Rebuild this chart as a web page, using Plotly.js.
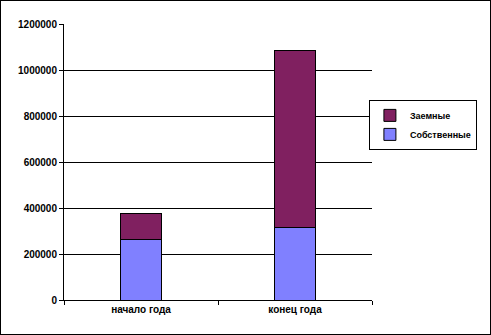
<!DOCTYPE html>
<html><head><meta charset="utf-8">
<script src="https://cdn.plot.ly/plotly-3.0.1.min.js"></script>
<style>html,body{margin:0;padding:0;background:#fff;}#c{width:489px;height:333px;border:1px solid #000;}</style>
</head><body><div id="c"></div>
<script>
const categories = ["начало года", "конец года"];
const own = [265000, 317000];
const borrowed = [113000, 766000];
const seriesNames = ["Собственные", "Заемные"];
const yTicks = [0, 200000, 400000, 600000, 800000, 1000000, 1200000];

const font = {family: "Arial, Liberation Sans, sans-serif", size: 10, color: "#000", weight: "bold"};
const legendFont = {family: "Arial, Liberation Sans, sans-serif", size: 9, color: "#000", weight: "bold"};
const traces = [
  {type: "bar", name: seriesNames[0], x: categories, y: own,
   marker: {color: "#8080FF", line: {color: "#000", width: 1}}},
  {type: "bar", name: seriesNames[1], x: categories, y: borrowed,
   marker: {color: "#802060", line: {color: "#000", width: 1}}}
];
const layout = {
  width: 489, height: 333,
  margin: {l: 63, r: 118, t: 23, b: 34},
  barmode: "stack", bargap: 0.74,
  paper_bgcolor: "#fff", plot_bgcolor: "#fff",
  font: font,
  showlegend: true,
  legend: {x: 0.99, xanchor: "left", y: 0.725, yanchor: "top",
    bordercolor: "#000", borderwidth: 1, font: legendFont, traceorder: "reversed",
    itemwidth: 30, tracegroupgap: 0},
  xaxis: {type: "category", showline: true, linecolor: "#000", linewidth: 1,
    ticks: "outside", tickson: "boundaries", ticklen: 4, tickcolor: "#000",
    showgrid: false, tickfont: font},
  yaxis: {range: [0, 1200000], tickvals: yTicks, ticktext: yTicks.map(String),
    showline: true, linecolor: "#000", linewidth: 1,
    ticks: "outside", ticklen: 4, tickcolor: "#000",
    showgrid: true, gridcolor: "#000", gridwidth: 1, zeroline: false,
    tickfont: font}
};
Plotly.newPlot("c", traces, layout, {displayModeBar: false, staticPlot: true});
</script></body></html>
